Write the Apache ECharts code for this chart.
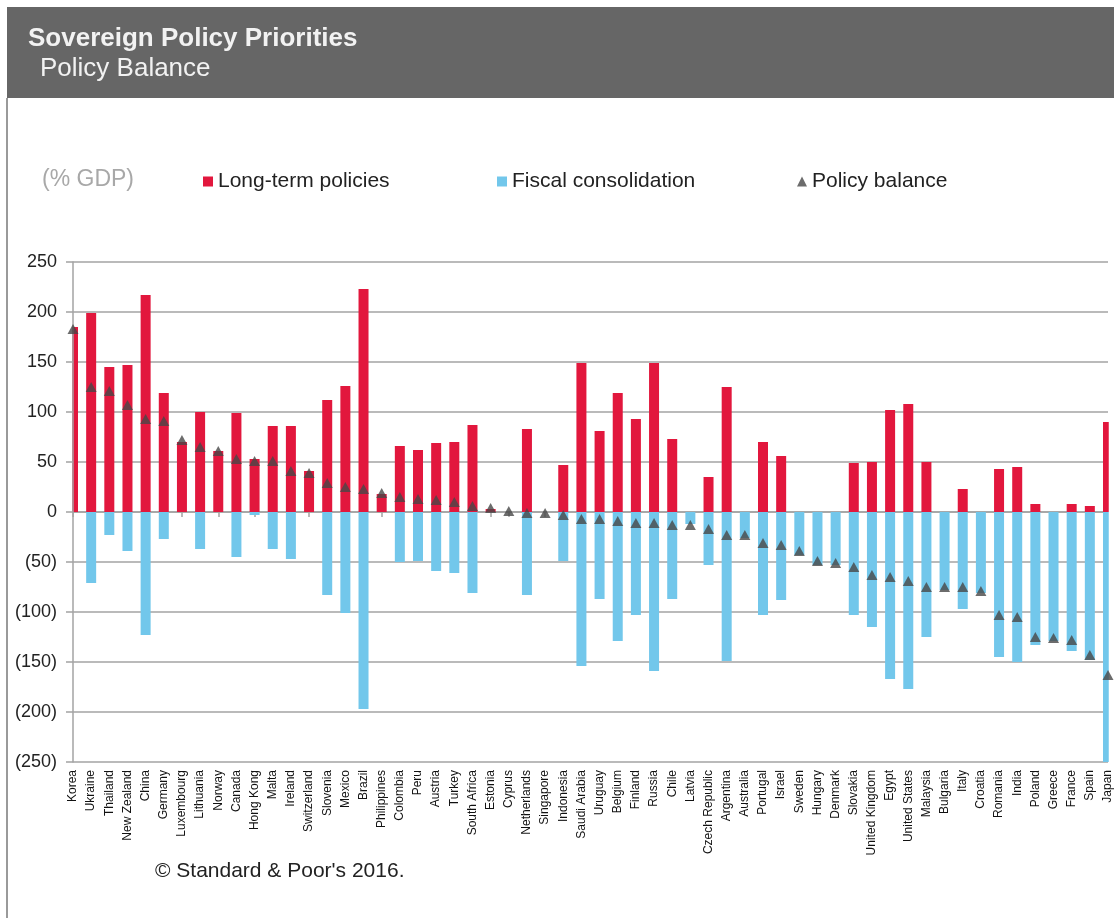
<!DOCTYPE html>
<html>
<head>
<meta charset="utf-8">
<script src="https://cdn.jsdelivr.net/npm/echarts@6/dist/echarts.min.js"></script>
<style>
html,body{margin:0;padding:0;background:#fff;}
#chart{width:1114px;height:918px;}
</style>
</head>
<body>
<div id="chart"></div>
<script>
var categories = ["Korea","Ukraine","Thailand","New Zealand","China","Germany","Luxembourg","Lithuania","Norway","Canada","Hong Kong","Malta","Ireland","Switzerland","Slovenia","Mexico","Brazil","Philippines","Colombia","Peru","Austria","Turkey","South Africa","Estonia","Cyprus","Netherlands","Singapore","Indonesia","Saudi Arabia","Uruguay","Belgium","Finland","Russia","Chile","Latvia","Czech Republic","Argentina","Australia","Portugal","Israel","Sweden","Hungary","Denmark","Slovakia","United Kingdom","Egypt","United States","Malaysia","Bulgaria","Italy","Croatia","Romania","India","Poland","Greece","France","Spain","Japan"];
var longTerm = [185,199,145,147,217,119,70,100,61,99,53,86,86,41,112,126,223,18,66,62,69,70,87,3,0,83,0,47,149,81,119,93,149,73,0,35,125,0,70,56,0,0,0,49,50,102,108,50,0,23,0,43,45,8,0,8,6,90];
var fiscal = [0,-71,-23,-39,-123,-27,0,-37,0,-45,-3,-37,-47,0,-83,-101,-197,0,-50,-49,-59,-61,-81,0,0,-83,0,-49,-154,-87,-129,-103,-159,-87,-12,-53,-149,-26,-103,-88,-43,-53,-53,-103,-115,-167,-177,-125,-78,-97,-81,-145,-150,-133,-129,-139,-148,-252];
var balance = [183,125,121,107,93,91,72,65,61,53,51,51,41,39,29,25,23,19,15,13,12,10,6,4,1,-1,-1,-3,-7,-7,-9,-11,-11,-13,-13,-17,-23,-23,-31,-33,-39,-49,-51,-55,-63,-65,-69,-75,-75,-75,-79,-103,-105,-125,-126,-128,-143,-163];
var yTicks = {min:-250, max:250, interval:50};

var FONT = '"Liberation Sans", Arial, sans-serif';
var RED = '#E2173D', BLUE = '#72C7EB', TRI = '#474747', GRID = '#a3a3a3';

var chart = echarts.init(document.getElementById('chart'), null, {renderer:'canvas'});
chart.setOption({
  animation:false,
  backgroundColor:'#fff',
  textStyle:{fontFamily:FONT},
  graphic:[
    {type:'rect', shape:{x:7,y:7,width:1107,height:91}, style:{fill:'#666666'}, silent:true},
    {type:'rect', shape:{x:6,y:98,width:2,height:820}, style:{fill:'#9a9a9a'}, silent:true},
    /* white masks that trim the half-bars hanging outside the plot area */
    {type:'rect', z:5, shape:{x:58,y:255,width:14.25,height:510}, style:{fill:'#ffffff'}, silent:true},
    {type:'rect', z:5, shape:{x:1108.75,y:255,width:6,height:510}, style:{fill:'#ffffff'}, silent:true},
    {type:'text', left:28, top:26, style:{text:'Sovereign Policy Priorities', fill:'#f2f2f2', font:'bold 26px '+FONT}},
    {type:'text', left:40, top:56, style:{text:'Policy Balance', fill:'#f2f2f2', font:'26px '+FONT}},
    {type:'text', left:42, top:168, style:{text:'(% GDP)', fill:'#a8a8a8', font:'23px '+FONT}},
    {type:'text', left:155, top:861, style:{text:'\u00a9 Standard & Poor\'s 2016.', fill:'#222', font:'21px '+FONT}}
  ],
  legend:[
    {data:[{name:'Long-term policies', icon:'rect'}], left:198, top:166, itemWidth:10, itemHeight:10, textStyle:{fontSize:21, color:'#222', fontFamily:FONT}},
    {data:[{name:'Fiscal consolidation', icon:'rect'}], left:492, top:166, itemWidth:10, itemHeight:10, textStyle:{fontSize:21, color:'#222', fontFamily:FONT}},
    {data:[{name:'Policy balance', icon:'triangle'}], left:792, top:166, itemWidth:10, itemHeight:10, textStyle:{fontSize:21, color:'#222', fontFamily:FONT}}
  ],
  grid:{left:73, right:6, top:262, bottom:156, containLabel:false},
  xAxis:[
    {type:'category', data:categories, boundaryGap:false, position:'bottom',
     axisLine:{show:false, onZero:false}, axisTick:{show:false},
     axisLabel:{rotate:90, interval:0, fontSize:12, color:'#111', margin:8, fontFamily:FONT},
     splitLine:{show:false}},
    {type:'category', data:categories, boundaryGap:false, position:'bottom',
     axisLine:{show:true, onZero:true, onZeroAxisIndex:0, lineStyle:{color:GRID, width:1.5}},
     axisTick:{show:true, length:5, interval:0, lineStyle:{color:GRID, width:1.5}},
     axisLabel:{show:false}, splitLine:{show:false}}
  ],
  yAxis:[
    {type:'value', position:'left', min:yTicks.min, max:yTicks.max, interval:yTicks.interval,
     axisLine:{show:false}, axisTick:{show:false}, axisLabel:{show:false},
     splitLine:{show:true, lineStyle:{color:GRID, width:1.5}}},
    {type:'value', position:'left', min:yTicks.min, max:yTicks.max, interval:yTicks.interval, z:10,
     axisLine:{show:true, lineStyle:{color:GRID, width:1.5}},
     axisTick:{show:true, length:7, lineStyle:{color:GRID, width:1.5}},
     splitLine:{show:false},
     axisLabel:{fontSize:18, color:'#222', margin:16, fontFamily:FONT,
       formatter:function(v){return v<0?'('+(-v)+')':String(v);}}}
  ],
  series:[
    {name:'Long-term policies', type:'bar', stack:'p', data:longTerm, barWidth:10, itemStyle:{color:RED}, xAxisIndex:0, yAxisIndex:0},
    {name:'Fiscal consolidation', type:'bar', stack:'p', data:fiscal, barWidth:10, itemStyle:{color:BLUE}, xAxisIndex:0, yAxisIndex:0},
    {name:'Policy balance', type:'scatter', data:balance, symbol:'triangle', symbolSize:[11,10], itemStyle:{color:TRI}, xAxisIndex:0, yAxisIndex:0, z:12}
  ]
});
</script>
</body>
</html>
